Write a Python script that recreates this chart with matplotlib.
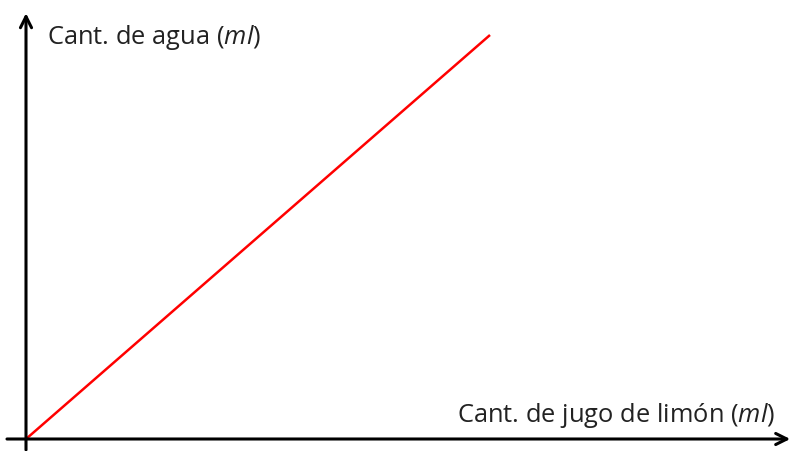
import matplotlib
matplotlib.use("Agg")
from matplotlib import pyplot as plt

plt.rcParams.update({
    "font.family": "Open Sans",
    "mathtext.fontset": "custom",
    "mathtext.rm": "Open Sans",
    "mathtext.it": "Open Sans:italic",
})

# data: proportional relation lemon juice -> water
lemon = [0, 10]
water = [0, 10]

x_label = "Cant. de jugo de limón ($\\mathit{ml}$)"
y_label = "Cant. de agua ($\\mathit{ml}$)"

fig = plt.figure(figsize=(7.93, 4.51), dpi=100)
ax = fig.add_axes([0, 0, 1, 1])
ax.set_xlim(-26 / 46.4, (793 - 26) / 46.4)
ax.set_ylim(-12 / 40.4, (451 - 12) / 40.4)
ax.axis("off")

arrow = dict(arrowstyle="->,head_length=0.8,head_width=0.4", lw=2.2, color="black",
             shrinkA=0, shrinkB=0)
ax.annotate("", xy=(16.47, 0), xytext=(-0.41, 0), arrowprops=arrow)
ax.annotate("", xy=(0, 10.54), xytext=(0, -0.27), arrowprops=arrow)

ax.plot(lemon, water, color="#ff0000", lw=1.8, solid_capstyle="butt")

ax.text(0.46, 9.93, y_label, fontsize=18.4, va="center", ha="left", color="#222222")
ax.text(16.14, 0.59, x_label, fontsize=18.4, va="center", ha="right", color="#222222")

fig.savefig("out.png", dpi=100)
